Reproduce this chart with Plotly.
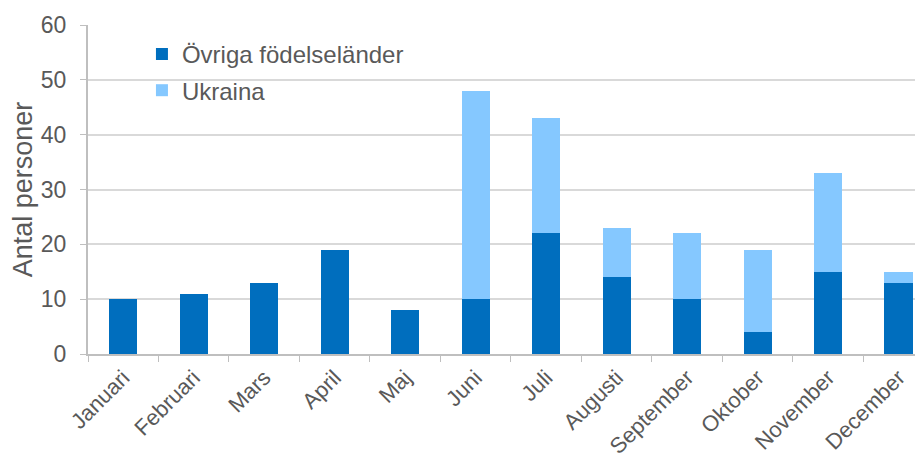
import plotly.graph_objects as go

months = ["Januari", "Februari", "Mars", "April", "Maj", "Juni", "Juli",
          "Augusti", "September", "Oktober", "November", "December"]
ovriga = [10, 11, 13, 19, 8, 10, 22, 14, 10, 4, 15, 13]
ukraina = [0, 0, 0, 0, 0, 38, 21, 9, 12, 15, 18, 2]
y_ticks = [0, 10, 20, 30, 40, 50, 60]

FONT = "Liberation Sans, Arial, sans-serif"
TXT = "#595959"

fig = go.Figure()
fig.add_trace(go.Bar(x=months, y=ovriga, name="Övriga födelseländer", legendgroup="a",
                     marker=dict(color="#006EBE", line=dict(width=0))))
fig.add_trace(go.Bar(x=months, y=ukraina, name="Ukraina", legendgroup="b",
                     marker=dict(color="#85C8FF", line=dict(width=0))))

fig.update_layout(
    barmode="stack",
    bargap=0.6,
    width=923, height=462,
    margin=dict(l=80, r=0, t=17, b=116, autoexpand=False),
    paper_bgcolor="white", plot_bgcolor="white",
    font=dict(family=FONT, color=TXT, size=20),
    legend=dict(x=0.064, y=0.979, xanchor="left", yanchor="top",
                traceorder="grouped", tracegroupgap=2,
                font=dict(size=24, color=TXT),
                bgcolor="rgba(0,0,0,0)", itemwidth=30),
    showlegend=True,
)
fig.update_yaxes(range=[0, 60], tickvals=y_ticks, showgrid=True,
                 gridcolor="#D9D9D9", gridwidth=2, automargin=False,
                 showline=True, linecolor="#BFBFBF", linewidth=2,
                 ticks="outside", ticklen=6, tickcolor="#BFBFBF",
                 ticklabelstandoff=9,
                 tickfont=dict(size=23, color=TXT),
                 title=dict(text="Antal personer", font=dict(size=27, color=TXT), standoff=12),
                 zeroline=False)
fig.update_xaxes(range=[-0.5, 11.46], showline=True, linecolor="#BFBFBF", linewidth=2,
                 automargin=False,
                 ticks="outside", ticklen=6, tickcolor="#BFBFBF", tickson="boundaries",
                 tickangle=-45, tickfont=dict(size=22, color=TXT))

fig.write_html("out.html")
